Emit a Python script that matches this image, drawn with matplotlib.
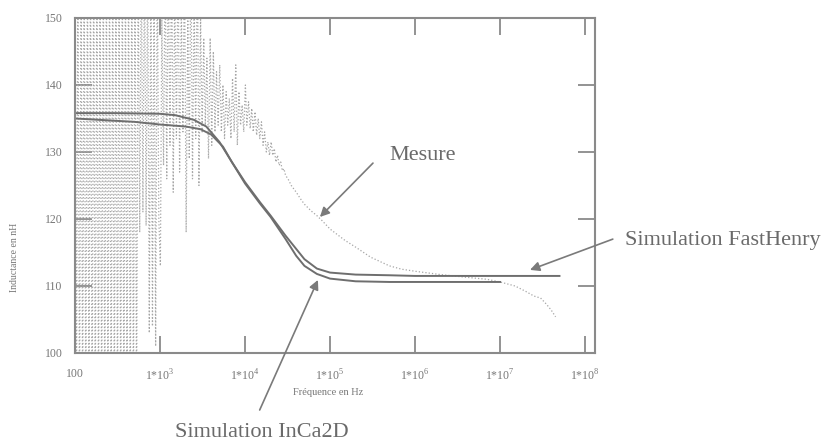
import numpy as np
import matplotlib
matplotlib.use('Agg')
import matplotlib.pyplot as plt
import matplotlib.ticker as ticker

plt.rcParams['font.family'] = 'Liberation Serif'
plt.rcParams['mathtext.fontset'] = 'custom'
plt.rcParams['mathtext.rm'] = 'Liberation Serif'

# simulation FastHenry (frequence Hz, inductance nH)
fh_f = [100, 300, 1000, 1500, 2500, 3500, 5000, 7000, 1e4, 1.5e4, 2e4, 3e4, 5e4, 7e4, 1e5, 2e5, 5e5, 1e6, 1e7, 5e7]
fh_L = [135.8, 135.8, 135.7, 135.5, 134.8, 133.8, 131.5, 128.5, 125.5, 122.5, 120.5, 117.5, 114.0, 112.6, 112.0, 111.7, 111.6, 111.5, 111.5, 111.5]

# simulation InCa2D
ic_f = [100, 500, 1000, 2000, 3000, 4000, 5500, 7000, 1e4, 1.5e4, 2e4, 3e4, 4e4, 5e4, 7e4, 1e5, 2e5, 5e5, 1e6, 1e7]
ic_L = [135.0, 134.5, 134.1, 133.8, 133.4, 132.6, 130.8, 128.5, 125.3, 122.3, 120.3, 117.0, 114.5, 113.0, 111.8, 111.1, 110.7, 110.6, 110.6, 110.6]

# mesure (tres bruitee en basse frequence)
meas_f = [100, 104, 108, 113, 118, 123, 128, 134, 140, 146, 152, 159, 166, 173, 181, 189, 197, 206, 215, 224,
          234, 244, 255, 266, 278, 290, 303, 316, 330, 345, 360, 376, 392, 409, 427, 446, 466, 486, 508, 530,
          553, 577, 603, 629, 657, 686, 716, 748, 781, 815, 851, 888, 927, 968,
          1010, 1050, 1100, 1150, 1200, 1250, 1310, 1370, 1430, 1490, 1560, 1630, 1700, 1780, 1860, 1940,
          2030, 2120, 2210, 2310, 2410, 2520, 2630, 2750, 2870, 3000, 3130, 3270, 3410, 3560, 3720, 3890,
          4060, 4240, 4430, 4620, 4830, 5040, 5270, 5500, 5740, 6000, 6260, 6540, 6830, 7130, 7450, 7780,
          8120, 8480, 8860, 9250, 9660,
          1.01e4, 1.05e4, 1.1e4, 1.15e4, 1.2e4, 1.25e4, 1.31e4, 1.37e4, 1.43e4, 1.49e4, 1.56e4, 1.63e4,
          1.7e4, 1.78e4, 1.86e4, 1.94e4, 2.03e4, 2.12e4, 2.21e4, 2.31e4, 2.41e4, 2.52e4, 2.63e4, 2.75e4,
          2.87e4, 3.0e4, 3.2e4, 3.5e4, 4e4, 4.5e4, 5e4, 6e4, 7e4, 8e4, 1e5, 1.5e5, 2e5, 3e5, 5e5, 7e5,
          1e6, 2e6, 4e6, 7e6, 1e7, 1.5e7, 2e7, 2.5e7, 3e7, 3.5e7, 4e7, 4.5e7]
meas_L = [160, 90, 160, 90, 160, 90, 160, 90, 160, 90, 160, 90, 160, 90, 160, 90, 160, 90, 160, 90,
          160, 90, 160, 90, 160, 90, 160, 90, 160, 90, 160, 90, 160, 90, 160, 90, 160, 90, 160, 90,
          160, 118, 160, 121, 160, 119, 160, 103, 160, 104, 160, 101, 160, 120,
          113, 150, 128, 160, 126, 160, 131, 160, 124, 155, 132, 160, 127, 152, 133, 160,
          118, 150, 129, 160, 126, 153, 132, 160, 125, 150, 133, 147, 134, 144, 129, 147,
          131, 145, 133, 142, 134, 143, 133, 140, 132, 139, 134, 138, 132, 141, 133, 143,
          131, 139, 134, 137, 133,
          140, 134, 137.5, 133.5, 136.5, 133, 136, 132.5, 135, 132, 134.5, 131,
          133, 130, 131.5, 129.5, 131.5, 129.5, 130.5, 128.5, 129.5, 128, 128.5, 127.2,
          127.5, 126.5, 126, 125, 124, 123, 122.2, 121.2, 120.5, 119.8, 118.5, 116.8, 115.8, 114.3, 113, 112.5,
          112.2, 111.7, 111.3, 111.0, 110.6, 110.0, 109.2, 108.5, 108.2, 107.3, 106.4, 105.4]

xtick_vals = [1e2, 1e3, 1e4, 1e5, 1e6, 1e7, 1e8]
xtick_labs = ['100', r'1*10$^{3}$', r'1*10$^{4}$', r'1*10$^{5}$', r'1*10$^{6}$', r'1*10$^{7}$', r'1*10$^{8}$']
ytick_vals = [100, 110, 120, 130, 140, 150]

fig = plt.figure(figsize=(8.27, 4.42), dpi=100)
ax = fig.add_axes([0.0907, 0.2014, 0.6288, 0.7579])

frame = '#8a8a8a'
txtc = '#6a6a6a'

ax.plot(meas_f, meas_L, ls=':', lw=0.9, color='#a6a6a6')
ax.plot(fh_f, fh_L, lw=1.4, color='#6e6e6e')
ax.plot(ic_f, ic_L, lw=1.4, color='#6e6e6e')

ax.set_xscale('log')
ax.set_xlim(100, 1.31e8)
ax.set_ylim(100, 150)
ax.set_xticks(xtick_vals)
ax.set_xticklabels(xtick_labs)
ax.xaxis.set_minor_locator(ticker.NullLocator())
ax.set_yticks(ytick_vals)
ax.tick_params(axis='both', which='major', direction='in', top=True, right=True,
               length=12, width=1.3, color=frame, labelsize=8.5, labelcolor='#777777')
ax.tick_params(axis='x', pad=11)
ax.tick_params(axis='y', pad=9)
for axis in ['top', 'bottom', 'left', 'right']:
    ax.spines[axis].set_linewidth(1.5)
    ax.spines[axis].set_color(frame)

fig.text(0.018, 0.418, 'Inductance en nH', rotation=90, ha='center', va='center', fontsize=7, color='#777777')
fig.text(0.397, 0.112, u'Fr\u00e9quence en Hz', ha='center', va='center', fontsize=7.5, color='#777777')

arw = dict(arrowstyle='-|>', color='#7a7a7a', lw=1.2, mutation_scale=14, shrinkA=0, shrinkB=0)

ax.annotate('', xy=(7.6e4, 120.3), xycoords='data', xytext=(0.451, 0.631), textcoords='figure fraction', arrowprops=arw)
fig.text(0.471, 0.649, 'Mesure', ha='left', va='center', fontsize=16, color=txtc)

ax.annotate('', xy=(2.25e7, 112.4), xycoords='data', xytext=(0.741, 0.459), textcoords='figure fraction', arrowprops=arw, annotation_clip=False)
fig.text(0.756, 0.457, 'Simulation FastHenry', ha='left', va='center', fontsize=16, color=txtc)

ax.annotate('', xy=(7.2e4, 110.9), xycoords='data', xytext=(0.314, 0.0724), textcoords='figure fraction', arrowprops=arw, annotation_clip=False)
fig.text(0.2116, 0.022, 'Simulation InCa2D', ha='left', va='center', fontsize=16, color=txtc)

plt.savefig('out.png', dpi=100)
